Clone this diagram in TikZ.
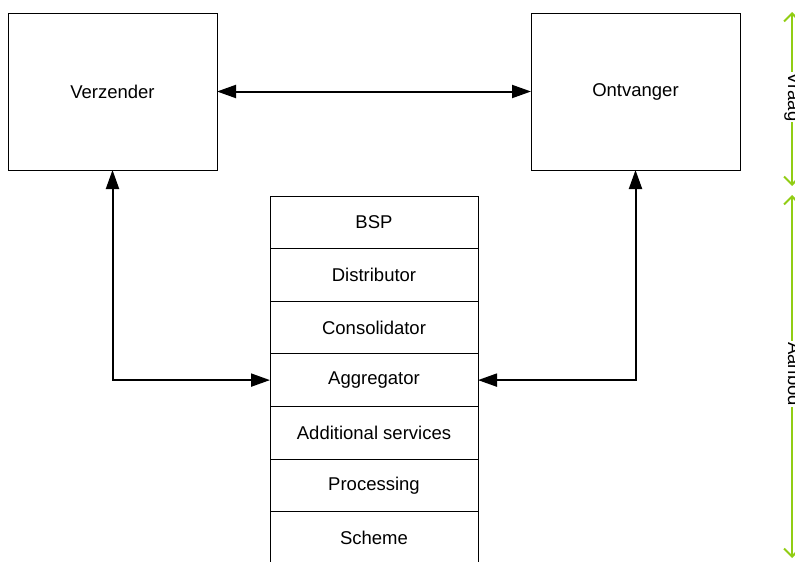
\documentclass[tikz,border=0pt]{standalone}
\usepackage{fontspec}
\setmainfont{Liberation Sans}
\usetikzlibrary{arrows.meta}
\definecolor{lime}{RGB}{145,205,20}
\begin{document}
\begin{tikzpicture}[x=1pt,y=-1pt,
  box/.style={draw=black,line width=1pt,minimum width=209pt,minimum height=157pt,inner sep=0pt,outer sep=0pt,font=\fontsize{18.5}{22}\selectfont},
  cell/.style={draw=black,line width=1pt,minimum width=208pt,minimum height=52.6pt,inner sep=0pt,outer sep=0pt,font=\fontsize{18.5}{22}\selectfont},
  conn/.style={line width=2pt,{Triangle[length=19pt,width=13pt]}-{Triangle[length=19pt,width=13pt]}},
  brace/.style={draw=lime,line width=2pt,{Straight Barb[length=8pt,width=16pt]}-{Straight Barb[length=8pt,width=16pt]}},
  side/.style={rotate=-90,anchor=base,fill=white,inner sep=1pt,font=\fontsize{18.5}{22}\selectfont}
]
\useasboundingbox (0,0) rectangle (795,562);
\node[box] (verz) at (112.5,91.5) {Verzender};
\node[box] (ontv) at (635.5,91.5) {Ontvanger};
\node[cell] (bsp) at (374,222.3) {BSP};
\node[cell,anchor=north] (dist) at (bsp.south) {Distributor};
\node[cell,anchor=north] (cons) at (dist.south) {Consolidator};
\node[cell,anchor=north] (aggr) at (cons.south) {Aggregator};
\node[cell,anchor=north] (addl) at (aggr.south) {Additional services};
\node[cell,anchor=north] (proc) at (addl.south) {Processing};
\node[cell,anchor=north] (sche) at (proc.south) {Scheme};
\draw[conn] (verz.east) -- (ontv.west);
\draw[conn] (verz.south) |- (aggr.west);
\draw[conn] (ontv.south) |- (aggr.east);
\coordinate (v1) at (792,12);
\coordinate (v2) at (792,186);
\coordinate (a1) at (792,195);
\coordinate (a2) at (792,558);
\draw[brace] (v1) -- (v2);
\draw[brace] (a1) -- (a2);
\node[side] (vraag) at (788,97) {Vraag};
\node[side] (aanbod) at (788,374) {Aanbod};
\end{tikzpicture}
\end{document}
